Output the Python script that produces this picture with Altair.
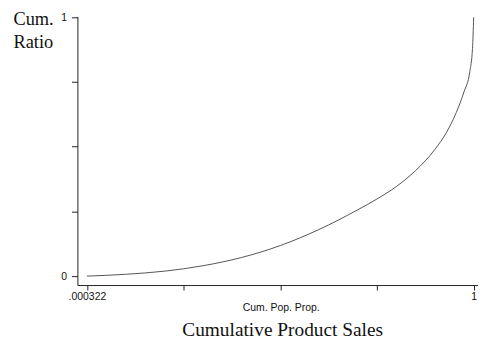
import altair as alt
import pandas as pd

# Lorenz-type curve
cum_pop = [0.000322, 0.1, 0.2, 0.3, 0.4, 0.5, 0.6, 0.7, 0.75,
           0.8, 0.85, 0.9, 0.93, 0.955, 0.975, 0.99, 0.997, 1.0]
cum_ratio = [0.0, 0.007, 0.019, 0.040, 0.072, 0.118, 0.180, 0.256, 0.298,
             0.346, 0.408, 0.490, 0.556, 0.632, 0.712, 0.790, 0.880, 1.0]

x_ticks = [0.000322, 0.25024, 0.50016, 0.75008, 1.0]
y_ticks = [0.0, 0.25, 0.5, 0.75, 1.0]

df = pd.DataFrame({"x": cum_pop, "y": cum_ratio})

chart = alt.Chart(df).mark_line(color="#555555", strokeWidth=1, interpolate="monotone").encode(
    x=alt.X(
        "x:Q",
        scale=alt.Scale(domain=[-0.0243, 1.0112], nice=False, zero=False),
        axis=alt.Axis(
            values=x_ticks,
            labelExpr="datum.value < 0.01 ? '.000322' : (datum.value == 1 ? '1' : '')",
            title="Cum. Pop. Prop.",
            titleFont="Liberation Sans",
            titleFontSize=10.5,
            titleFontWeight="normal",
            titleColor="#111111",
            titlePadding=0,
            titleX=205,
            labelFont="Liberation Sans",
            labelFontSize=10.5,
            labelColor="#111111",
            labelPadding=2,
            labelFlush=False,
            labelOverlap=False,
            tickSize=5,
            tickColor="#222222",
            domainColor="#222222",
            grid=False,
        ),
    ),
    y=alt.Y(
        "y:Q",
        scale=alt.Scale(domain=[-0.0345, 1.0038], nice=False, zero=False),
        axis=alt.Axis(
            values=y_ticks,
            labelExpr="datum.value == 0 ? '0' : (datum.value == 1 ? '1' : '')",
            title=["Cum.", "Ratio"],
            titleAngle=0,
            titleAlign="left",
            titleBaseline="alphabetic",
            titleX=-65,
            titleY=8,
            titleFont="Liberation Serif",
            titleFontSize=18.5,
            titleFontWeight="normal",
            titleLineHeight=23.5,
            titleColor="#111111",
            labelFont="Liberation Sans",
            labelFontSize=10.5,
            labelColor="#111111",
            labelPadding=5,
            labelFlush=False,
            labelOverlap=False,
            tickSize=6,
            tickColor="#222222",
            domainColor="#222222",
            grid=False,
        ),
    ),
).properties(
    width=404,
    height=271,
    title=alt.TitleParams(
        "Cumulative Product Sales",
        orient="bottom",
        anchor="middle",
        font="Liberation Serif",
        fontSize=19.5,
        fontWeight="normal",
        color="#111111",
        offset=8,
        dx=5,
    ),
    autosize=alt.AutoSizeParams(type="none"),
    padding={"left": 70, "top": 7, "right": 0, "bottom": 52},
).configure_view(stroke=None)

chart.save("out.html", embed_options={"renderer": "svg", "actions": False})
